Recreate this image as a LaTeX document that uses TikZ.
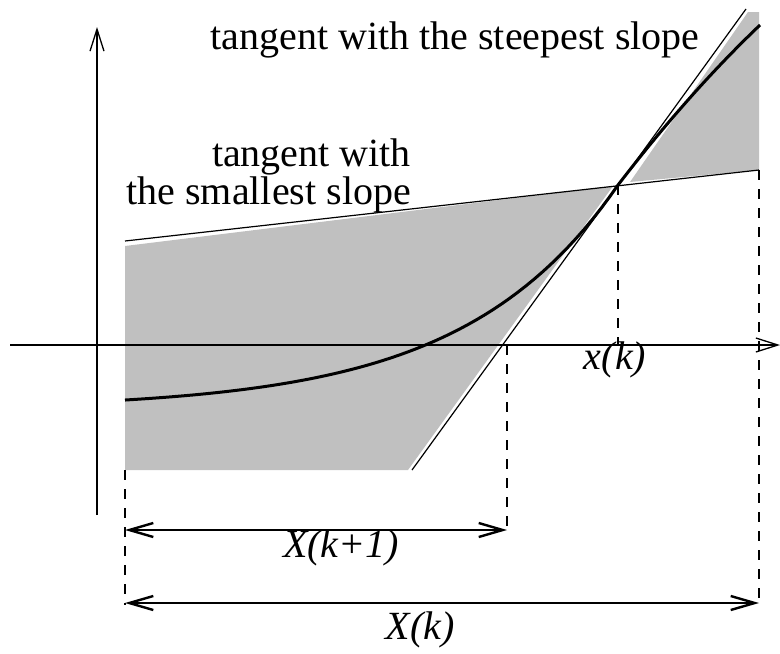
\documentclass[tikz,border=0pt]{standalone}
\usepackage{fontspec}
\setmainfont{Liberation Serif}
\usetikzlibrary{arrows.meta}
\definecolor{regiongray}{RGB}{192,192,192}
\tikzset{
  axis/.style={line width=0.65pt, -{Straight Barb[length=11pt,width=7pt]}},
  tangent/.style={line width=0.6pt},
  guide/.style={line width=0.65pt, dash pattern=on 5pt off 4.5pt},
  span/.style={line width=1.2pt, {Straight Barb[length=12pt,width=7pt]}-{Straight Barb[length=12pt,width=7pt]}},
  label/.style={font=\fontsize{20}{15}\selectfont},
  varlabel/.style={font=\fontsize{20}{15}\selectfont\itshape},
}
\begin{document}
\begin{tikzpicture}[x=0.5pt,y=-0.5pt]
    \useasboundingbox (0,0) rectangle (780,653);

    % shaded regions
    \fill[regiongray] (125,246) -- (613,186) -- (408,470) -- (125,470) -- cycle;
    \fill[regiongray] (630,182) -- (748,12) -- (759,12) -- (759,170) -- cycle;

    % axes
    \coordinate (xl) at (10,345);
    \coordinate (xr) at (780,345);
    \coordinate (yb) at (97,515);
    \coordinate (yt) at (97,27);
    \draw[axis] (xl) -- (xr);
    \draw[axis] (yb) -- (yt);

    % tangents
    \coordinate (xk) at (618,185);
    \coordinate (flat0) at (125,241);
    \coordinate (flat1) at (759,170);
    \coordinate (steep0) at (412,470);
    \coordinate (steep1) at (746,9);
    \draw[tangent] (flat0) -- (flat1);
    \draw[tangent] (steep0) -- (steep1);

    % the function, inflection at x(k)
    \draw[line width=1.5pt, line join=round]
      plot[domain=125:618, samples=60] (\x, {345-(224.1*exp(0.0065*(\x-618))-64.1)})
      -- plot[domain=618:760, samples=30] (\x, {185-(1.3*(\x-618)-24.6*((\x-618)/142)^2)});

    % guide lines
    \coordinate (xk0) at (618,345);
    \coordinate (z0) at (507,345);
    \coordinate (z1) at (507,530);
    \coordinate (a0) at (125,470);
    \coordinate (a1) at (125,605);
    \coordinate (b1) at (759,605);
    \draw[guide] (xk) -- (xk0);
    \draw[guide] (z0) -- (z1);
    \draw[guide] (a0) -- (a1);
    \draw[guide] (flat1) -- (b1);

    % intervals
    \coordinate (s1l) at (125,530);
    \coordinate (s1r) at (507,530);
    \coordinate (s2l) at (125,603);
    \coordinate (s2r) at (759,603);
    \draw[span] (s1l) -- (s1r);
    \draw[span] (s2l) -- (s2r);

    % labels
    \node[label] (steeptext) at (455,40) {tangent with the steepest slope};
    \node[label, align=right, anchor=east] (flattext) at (418,176) {tangent with\\the smallest slope};
    \node[varlabel] (xklabel) at (615,360) {x(k)};
    \node[varlabel] (Xk1label) at (341,548) {X(k+1)};
    \node[varlabel] (Xklabel) at (420,630) {X(k)};
\end{tikzpicture}
\end{document}
